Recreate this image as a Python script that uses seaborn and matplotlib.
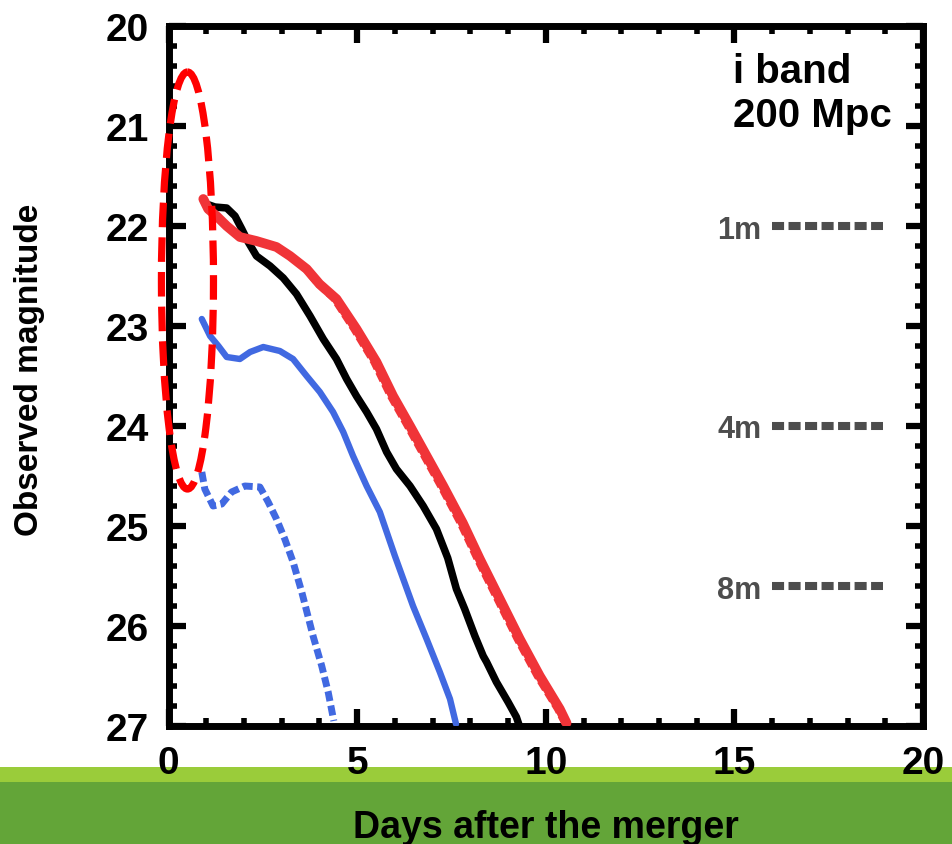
import numpy as np
import pandas as pd
import matplotlib
matplotlib.use("Agg")
import matplotlib.pyplot as plt
from matplotlib.patches import Ellipse, Rectangle
import seaborn as sns

# ---------------- data ----------------
black_days = [1.00, 1.23, 1.54, 1.76, 1.94, 2.11, 2.33, 2.69, 3.04, 3.39, 3.75, 4.10,
              4.45, 4.72, 4.98, 5.25, 5.51, 5.78, 6.04, 6.40, 6.75, 7.10, 7.40, 7.63,
              7.85, 8.12, 8.34, 8.43, 8.69, 9.00, 9.22, 9.30]
black_mag = [21.78, 21.81, 21.82, 21.90, 22.03, 22.16, 22.30, 22.40, 22.52, 22.68, 22.90, 23.13,
             23.33, 23.53, 23.70, 23.86, 24.03, 24.26, 24.43, 24.60, 24.80, 25.03, 25.32, 25.63,
             25.83, 26.10, 26.30, 26.36, 26.56, 26.76, 26.91, 27.00]

red_days = [0.92, 1.05, 1.27, 1.54, 1.89, 2.33, 2.86, 3.22, 3.66, 4.00, 4.45, 4.98,
            5.51, 5.95, 6.40, 6.84, 7.28, 7.80, 8.25, 8.78, 9.31, 9.84, 10.37, 10.55]
red_mag = [21.73, 21.83, 21.90, 22.00, 22.11, 22.15, 22.21, 22.30, 22.43, 22.58, 22.73, 23.03,
           23.36, 23.70, 24.00, 24.30, 24.60, 24.97, 25.33, 25.73, 26.13, 26.50, 26.83, 26.97]

red2_days = [0.92, 1.05, 1.27, 1.54, 1.89, 2.33, 2.86, 3.22, 3.62, 3.95, 4.38, 4.90,
             5.43, 5.87, 6.32, 6.76, 7.20, 7.72, 8.17, 8.70, 9.23, 9.76, 10.30, 10.52]
red2_mag = [21.73, 21.83, 21.90, 22.00, 22.11, 22.15, 22.21, 22.30, 22.43, 22.58, 22.73, 23.03,
            23.36, 23.70, 24.00, 24.30, 24.60, 24.97, 25.33, 25.73, 26.13, 26.50, 26.83, 26.99]

blue_days = [0.88, 1.10, 1.32, 1.54, 1.89, 2.16, 2.51, 2.95, 3.30, 3.66, 4.01, 4.36,
             4.63, 4.89, 5.25, 5.60, 6.00, 6.48, 6.84, 7.19, 7.46, 7.62]
blue_mag = [22.93, 23.10, 23.20, 23.31, 23.33, 23.26, 23.21, 23.25, 23.33, 23.50, 23.66, 23.86,
            24.06, 24.30, 24.60, 24.86, 25.30, 25.80, 26.13, 26.46, 26.73, 26.98]

blue2_days = [0.88, 0.96, 1.18, 1.41, 1.67, 2.02, 2.42, 2.64, 2.86, 3.08, 3.30, 3.53,
              3.83, 4.06, 4.23, 4.38]
blue2_mag = [24.46, 24.63, 24.80, 24.78, 24.66, 24.60, 24.61, 24.76, 24.93, 25.13, 25.36, 25.66,
             26.10, 26.40, 26.66, 26.95]

limit_labels = ["1m", "4m", "8m"]
limit_mags = [22.0, 24.0, 25.6]

x_ticks = [0, 5, 10, 15, 20]
y_ticks = [20, 21, 22, 23, 24, 25, 26, 27]
band_text = ["i band", "200 Mpc"]

# ---------------- style ----------------
sns.set_style("ticks")
plt.rcParams["font.family"] = ["Liberation Sans", "DejaVu Sans"]
plt.rcParams["font.weight"] = "bold"
plt.rcParams["text.color"] = "black"
plt.rcParams["axes.labelcolor"] = "black"
plt.rcParams["xtick.color"] = "black"
plt.rcParams["ytick.color"] = "black"

RED = "#F03438"
BLUE = "#4169E1"
GRAY = "#4D4D4D"

fig = plt.figure(figsize=(9.53, 8.45), dpi=100)
fig.patch.set_facecolor("white")
ax = fig.add_axes([168.6 / 953, 1 - 727 / 845, 754.4 / 953, 700 / 845])

# green bands at the bottom of the figure
fig.patches.append(Rectangle((0, 1 - 783 / 845), 1, 15 / 845, transform=fig.transFigure,
                             facecolor="#9ACC3A", edgecolor="none", zorder=-5))
fig.patches.append(Rectangle((0, 0), 1, 1 - 783 / 845, transform=fig.transFigure,
                             facecolor="#63A538", edgecolor="none", zorder=-5))

def draw(days, mag, color, lw, ls, z):
    df = pd.DataFrame({"days": days, "mag": mag})
    sns.lineplot(data=df, x="days", y="mag", color=color, linewidth=lw, ax=ax,
                 estimator=None, sort=False, zorder=z, solid_capstyle="round")
    line = ax.get_lines()[-1]
    if ls is not None:
        line.set_linestyle(ls)
        line.set_dash_capstyle("butt")
    return line

draw(blue2_days, blue2_mag, BLUE, 5.0, (0, (1.45, 0.65)), 3)
draw(blue_days, blue_mag, BLUE, 4.6, None, 3)
draw(black_days, black_mag, "black", 5.4, None, 4)
draw(red_days, red_mag, RED, 7.0, None, 5)
draw(red2_days, red2_mag, RED, 4.6, (0, (1.5, 0.6)), 5)

# highlight ellipse
ell = Ellipse((0.50, 22.545), 1.38, 4.17, fill=False, edgecolor="#FF0000", lw=5.2,
              linestyle=(0, (3.4, 1.4)), clip_on=False, zorder=10)
ax.add_patch(ell)

# telescope limits
for lab, m in zip(limit_labels, limit_mags):
    ax.plot([16.0, 18.95], [m, m], color=GRAY, lw=5.8, linestyle=(0, (1.5, 0.55)),
            dash_capstyle="butt", zorder=3)
    ax.text(15.72, m, lab, color=GRAY, fontsize=22, fontweight="bold",
            ha="right", va="center_baseline")

ax.text(14.95, 20.56, band_text[0], fontsize=29, fontweight="bold", ha="left", va="baseline")
ax.text(14.95, 21.00, band_text[1], fontsize=29, fontweight="bold", ha="left", va="baseline")

# axes
ax.set_xlim(0, 20)
ax.set_ylim(27, 20)
ax.set_xticks(x_ticks)
ax.set_yticks(y_ticks)
ax.set_xticks(np.arange(0, 20.01, 1), minor=True)
ax.set_yticks(np.arange(20, 27.01, 0.2), minor=True)
ax.set_xticklabels([str(t) for t in x_ticks])
ax.set_yticklabels([str(t) for t in y_ticks])
ax.tick_params(which="major", direction="in", top=True, right=True, length=12, width=4.5,
               labelsize=28, pad=14, color="black", labelcolor="black")
ax.tick_params(which="minor", direction="in", top=True, right=True, length=5.5, width=4,
               color="black")
for lab in ax.get_xticklabels() + ax.get_yticklabels():
    lab.set_fontweight("bold")
for sp in ax.spines.values():
    sp.set_linewidth(5)
    sp.set_color("black")

ax.set_xlabel("Days after the merger", fontsize=27, fontweight="bold", color="black")
ax.set_ylabel("Observed magnitude", fontsize=24, fontweight="bold", color="black")
ax.xaxis.set_label_coords(0.5, -0.118)
ax.yaxis.set_label_coords(-0.184, 0.51)
ax.yaxis.label.set_va("center")
ax.xaxis.label.set_va("top")

fig.savefig("out.png", dpi=100, facecolor="white")
